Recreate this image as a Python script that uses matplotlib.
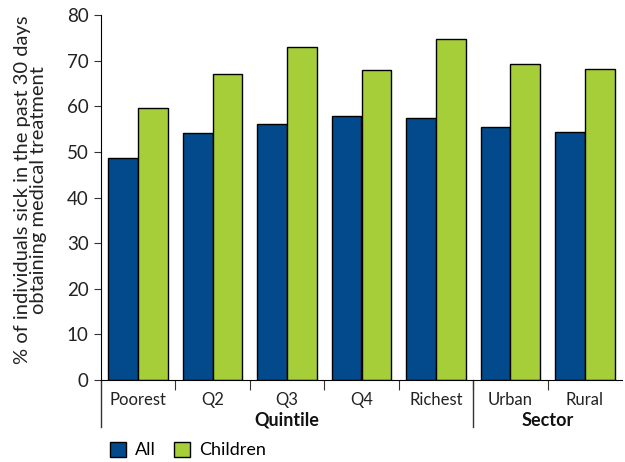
import matplotlib
matplotlib.use("Agg")
import matplotlib.pyplot as plt
from matplotlib.patches import Patch
import matplotlib.transforms as mtransforms
import numpy as np

plt.rcParams['font.family'] = ['Lato', 'DejaVu Sans']

# data
categories = ["Poorest", "Q2", "Q3", "Q4", "Richest", "Urban", "Rural"]
all_vals = [48.6, 54.1, 56.1, 57.9, 57.5, 55.5, 54.4]
children_vals = [59.7, 67.1, 73.0, 68.0, 74.8, 69.3, 68.2]
groups = ["Quintile", "Sector"]
group_spans = [(0, 4), (5, 6)]

blue = "#034a8c"
green = "#a6ce39"

fig = plt.figure(figsize=(6.25, 4.62), dpi=100)
ax = fig.add_axes([0.1616, 0.1775, 0.8336, 0.79])

x = np.arange(len(categories))
w = 0.4
ax.bar(x - w / 2, all_vals, w, color=blue, edgecolor="black", linewidth=1, label="All")
ax.bar(x + w / 2, children_vals, w, color=green, edgecolor="black", linewidth=1, label="Children")

ax.set_xlim(-0.5, len(categories) - 0.5)
ax.set_ylim(0, 80)
ax.set_yticks(range(0, 81, 10))
ax.tick_params(axis="y", labelsize=13.5, length=5, pad=4, color="#333333", labelcolor="#222222")

# group boundaries as ticks, category names in between
ax.set_xticks(x[:-1] + 0.5)
ax.set_xticklabels([])
ax.tick_params(axis="x", length=7, color="#333333")
ax.set_xticks(x, minor=True)
ax.set_xticklabels(categories, minor=True)
ax.tick_params(axis="x", which="minor", length=0, labelsize=12, pad=9, labelcolor="#222222")

for s in ["top", "right"]:
    ax.spines[s].set_visible(False)

trans = mtransforms.blended_transform_factory(ax.transData, ax.transAxes)
for name, (a, b) in zip(groups, group_spans):
    ax.text((a + b) / 2, -0.11, name, transform=trans, ha="center", va="center",
            fontsize=13, fontweight="bold", color="#111111")
for xb in [-0.5, 4.5]:
    ax.plot([xb, xb], [0, -0.128], transform=trans, color="#333333", lw=1, clip_on=False)

ax.set_ylabel("% of individuals sick in the past 30 days\nobtaining medical treatment",
              fontsize=14.5, color="#222222", linespacing=0.9)
ax.yaxis.set_label_coords(-0.104, 0.52)

fig.legend(handles=[Patch(facecolor=blue, edgecolor="black", label="All"),
                    Patch(facecolor=green, edgecolor="black", label="Children")],
           loc="center left", bbox_to_anchor=(0.15, 0.026), ncol=2, frameon=False,
           fontsize=13, handlelength=0.9, handleheight=0.9, handletextpad=0.5,
           columnspacing=1.0)

plt.savefig("out.png", dpi=100)
